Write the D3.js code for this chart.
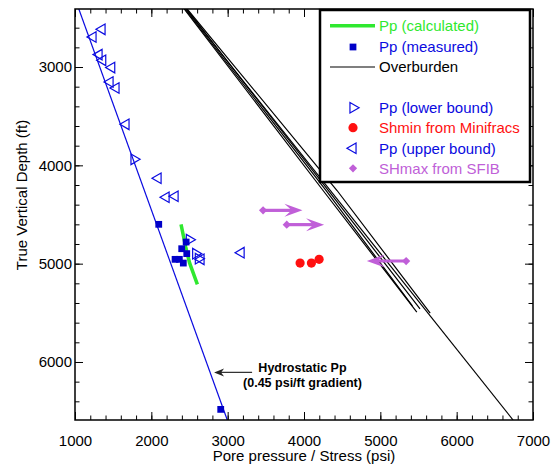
<!DOCTYPE html>
<html>
<head>
<meta charset="utf-8">
<script src="https://cdn.jsdelivr.net/npm/d3@7"></script>
<style>
  body { margin: 0; background: #fff; }
  text { font-family: "Liberation Sans", Arial, sans-serif; }
</style>
</head>
<body>
<div id="chart-container"></div>
<script>
// pore pressure (psi) / depth (ft) readings
const upperP = [1354, 1236, 1315, 1363, 1481, 1459, 1537, 1668, 2088, 2193, 2311, 2651, 3176];
const upperZ = [2617, 2695, 2874, 2932, 3006, 3153, 3214, 3583, 4132, 4325, 4315, 4956, 4888];
const lowerP = [1773, 2498, 2581, 2616];
const lowerZ = [3939, 4756, 4898, 4949];
const measuredP = [2097, 2456, 2398, 2464, 2311, 2367, 2419, 2909];
const measuredZ = [4600, 4780, 4848, 4898, 4956, 4956, 4994, 6482];
const calcP = [2389, 2450, 2500, 2603];
const calcZ = [4600, 4830, 4990, 5211];
const shminP = [3949, 4097, 4198];
const shminZ = [4994, 4994, 4956];
const shmaxFrom = [3464, 3774, 5338];
const shmaxTo = [3980, 4263, 4823];
const shmaxZ = [4458, 4603, 4973];
const hydroP = [1050, 2995];
const hydroZ = [2410, 6590];
// overburden curves
const obZ = [[2410, 6590], [2410, 4256, 5503], [2410, 4256, 5492], [2410, 4256, 5430], [2410, 4256, 5460]];
const obP = [[2452, 6739], [2470, 4433, 5653], [2430, 4250, 5478], [2440, 4290, 5420], [2460, 4320, 5520]];
const xTicks = [1000, 2000, 3000, 4000, 5000, 6000, 7000];
const yTicks = [3000, 4000, 5000, 6000];

const W = 558, H = 466;
const margin = { top: 9, right: 25, bottom: 46, left: 75 };
const width = W - margin.left - margin.right;
const height = H - margin.top - margin.bottom;

const blue = "#0a0ae0", red = "#ff1010", green = "#2fe82f", purple = "#c05fd8";

const svg = d3.select("#chart-container").append("svg")
    .attr("width", W).attr("height", H);
const g = svg.append("g").attr("transform", `translate(${margin.left},${margin.top})`);

const x = d3.scaleLinear().domain([1000, 7000]).range([0, width]);
const y = d3.scaleLinear().domain([2410, 6590]).range([0, height]);

svg.append("defs").append("clipPath").attr("id", "clip")
    .append("rect").attr("width", width).attr("height", height);
const plot = g.append("g").attr("clip-path", "url(#clip)");

const line = d3.line().x(d => x(d[0])).y(d => y(d[1]));
const zip = (a, b) => a.map((v, i) => [v, b[i]]);

// overburden
obP.forEach((p, i) => {
    plot.append("path").attr("d", line(zip(p, obZ[i])))
        .attr("fill", "none").attr("stroke", "#000").attr("stroke-width", 1.2);
});

// hydrostatic
plot.append("path").attr("d", line(zip(hydroP, hydroZ)))
    .attr("fill", "none").attr("stroke", blue).attr("stroke-width", 1.2);

// calculated Pp
plot.append("path").attr("d", line(zip(calcP, calcZ)))
    .attr("fill", "none").attr("stroke", green).attr("stroke-width", 3.5);

const tri = d3.symbol().type(d3.symbolTriangle).size(48);
const sq = d3.symbol().type(d3.symbolSquare).size(46);
const dia = d3.symbol().type(d3.symbolSquare).size(34); // rotated 45deg below

plot.selectAll(".upper").data(zip(upperP, upperZ)).join("path")
    .attr("d", tri).attr("transform", d => `translate(${x(d[0])},${y(d[1])}) rotate(-90)`)
    .attr("fill", "none").attr("stroke", blue).attr("stroke-width", 1.2);
plot.selectAll(".lower").data(zip(lowerP, lowerZ)).join("path")
    .attr("d", tri).attr("transform", d => `translate(${x(d[0])},${y(d[1])}) rotate(90)`)
    .attr("fill", "none").attr("stroke", blue).attr("stroke-width", 1.2);
plot.selectAll(".meas").data(zip(measuredP, measuredZ)).join("path")
    .attr("d", sq).attr("transform", d => `translate(${x(d[0])},${y(d[1])})`)
    .attr("fill", "#0000c8");
plot.selectAll(".shmin").data(zip(shminP, shminZ)).join("circle")
    .attr("cx", d => x(d[0])).attr("cy", d => y(d[1])).attr("r", 4.6).attr("fill", red);

// SHmax arrows: diamond at start, barbed head at end
shmaxZ.forEach((z, i) => {
    const x0 = x(shmaxFrom[i]), x1 = x(shmaxTo[i]), yy = y(z);
    const dir = Math.sign(x1 - x0);
    plot.append("line").attr("x1", x0).attr("x2", x1 - dir * 8).attr("y1", yy).attr("y2", yy)
        .attr("stroke", purple).attr("stroke-width", 3.2);
    plot.append("path").attr("d", dia).attr("transform", `translate(${x0},${yy}) rotate(45)`).attr("fill", purple);
    const hl = 18, hw = 6.5;
    plot.append("path")
        .attr("d", `M${x1},${yy} L${x1 - dir * hl},${yy - hw} L${x1 - dir * hl * 0.6},${yy} L${x1 - dir * hl},${yy + hw} Z`)
        .attr("fill", purple);
});

// hydrostatic annotation
const ax0 = x(3320), ax1 = x(2822), ay = y(6106);
g.append("line").attr("x1", ax0).attr("x2", ax1 + 6).attr("y1", ay).attr("y2", ay)
    .attr("stroke", "#333").attr("stroke-width", 1.3);
g.append("path").attr("d", `M${ax1},${ay} L${ax1 + 10},${ay - 4} L${ax1 + 7},${ay} L${ax1 + 10},${ay + 4} Z`)
    .attr("fill", "#222");
const note = g.append("text").attr("x", x(3980)).attr("y", y(6060))
    .attr("text-anchor", "middle").style("font-size", "12.5px").style("font-weight", "bold");
note.append("tspan").attr("x", x(3980)).attr("dy", "0.35em").text("Hydrostatic Pp");
note.append("tspan").attr("x", x(3980)).attr("dy", "1.15em").text("(0.45 psi/ft gradient)");

// axes with inward ticks
const minorX = d3.range(1000, 7001, 200), minorY = d3.range(2600, 6590, 200);
const styleAxis = sel => {
    sel.select(".domain").remove();
    sel.selectAll(".tick line").attr("stroke", "#000").attr("stroke-width", 1);
    sel.selectAll(".tick text").style("font-size", "15px").attr("fill", "#000")
        .style("font-family", "Liberation Sans, Arial, sans-serif");
};
g.append("g").attr("transform", `translate(0,${height})`)
    .call(d3.axisBottom(x).tickValues(minorX).tickSize(-4.5).tickFormat("")).call(styleAxis);
g.append("g").attr("transform", `translate(0,${height})`)
    .call(d3.axisBottom(x).tickValues(xTicks).tickSize(-8).tickPadding(15).tickFormat(d3.format("d"))).call(styleAxis);
g.append("g").call(d3.axisTop(x).tickValues(minorX).tickSize(-4.5).tickFormat("")).call(styleAxis);
g.append("g").call(d3.axisTop(x).tickValues(xTicks).tickSize(-8).tickFormat("")).call(styleAxis);
g.append("g").call(d3.axisLeft(y).tickValues(minorY).tickSize(-4.5).tickFormat("")).call(styleAxis);
g.append("g").call(d3.axisLeft(y).tickValues(yTicks).tickSize(-8).tickPadding(3).tickFormat(d3.format("d"))).call(styleAxis);
g.append("g").attr("transform", `translate(${width},0)`)
    .call(d3.axisRight(y).tickValues(minorY).tickSize(-4.5).tickFormat("")).call(styleAxis);
g.append("g").attr("transform", `translate(${width},0)`)
    .call(d3.axisRight(y).tickValues(yTicks).tickSize(-8).tickFormat("")).call(styleAxis);

g.append("rect").attr("width", width).attr("height", height)
    .attr("fill", "none").attr("stroke", "#000").attr("stroke-width", 1.5);

// axis titles
svg.append("text").attr("x", margin.left + width / 2).attr("y", 461)
    .attr("text-anchor", "middle").style("font-size", "15px").text("Pore pressure / Stress (psi)");
svg.append("text").attr("transform", "translate(26.5,195) rotate(-90)")
    .attr("text-anchor", "middle").style("font-size", "15px").text("True Vertical Depth (ft)");

// legend
const lg = svg.append("g");
lg.append("rect").attr("x", 320).attr("y", 10).attr("width", 210).attr("height", 172)
    .attr("fill", "#fff").attr("stroke", "#000").attr("stroke-width", 2.5);
const legendItems = [
    { label: "Pp (calculated)", color: green, y: 25.7, kind: "line", stroke: green, sw: 3.5 },
    { label: "Pp (measured)", color: blue, y: 47, kind: "square" },
    { label: "Overburden", color: "#000", y: 67, kind: "line", stroke: "#000", sw: 1.2 },
    { label: "Pp (lower bound)", color: blue, y: 107.7, kind: "lower" },
    { label: "Shmin from Minifracs", color: red, y: 127.7, kind: "dot" },
    { label: "Pp (upper bound)", color: blue, y: 148.3, kind: "upper" },
    { label: "SHmax from SFIB", color: purple, y: 168.3, kind: "diamond" }
];
legendItems.forEach(it => {
    const mx = 353;
    if (it.kind === "line") {
        lg.append("line").attr("x1", 330).attr("x2", 375).attr("y1", it.y).attr("y2", it.y)
            .attr("stroke", it.stroke).attr("stroke-width", it.sw);
    } else if (it.kind === "square") {
        lg.append("path").attr("d", sq).attr("transform", `translate(${mx},${it.y})`).attr("fill", "#0000c8");
    } else if (it.kind === "lower" || it.kind === "upper") {
        lg.append("path").attr("d", tri)
            .attr("transform", `translate(${mx},${it.y}) rotate(${it.kind === "lower" ? 90 : -90})`)
            .attr("fill", "none").attr("stroke", blue).attr("stroke-width", 1.2);
    } else if (it.kind === "dot") {
        lg.append("circle").attr("cx", mx).attr("cy", it.y).attr("r", 4.6).attr("fill", red);
    } else {
        lg.append("path").attr("d", dia).attr("transform", `translate(${mx},${it.y}) rotate(45)`).attr("fill", purple);
    }
    lg.append("text").attr("x", 379).attr("y", it.y).attr("dy", "0.35em")
        .style("font-size", "15px").attr("fill", it.color).text(it.label);
});
</script>
</body>
</html>
